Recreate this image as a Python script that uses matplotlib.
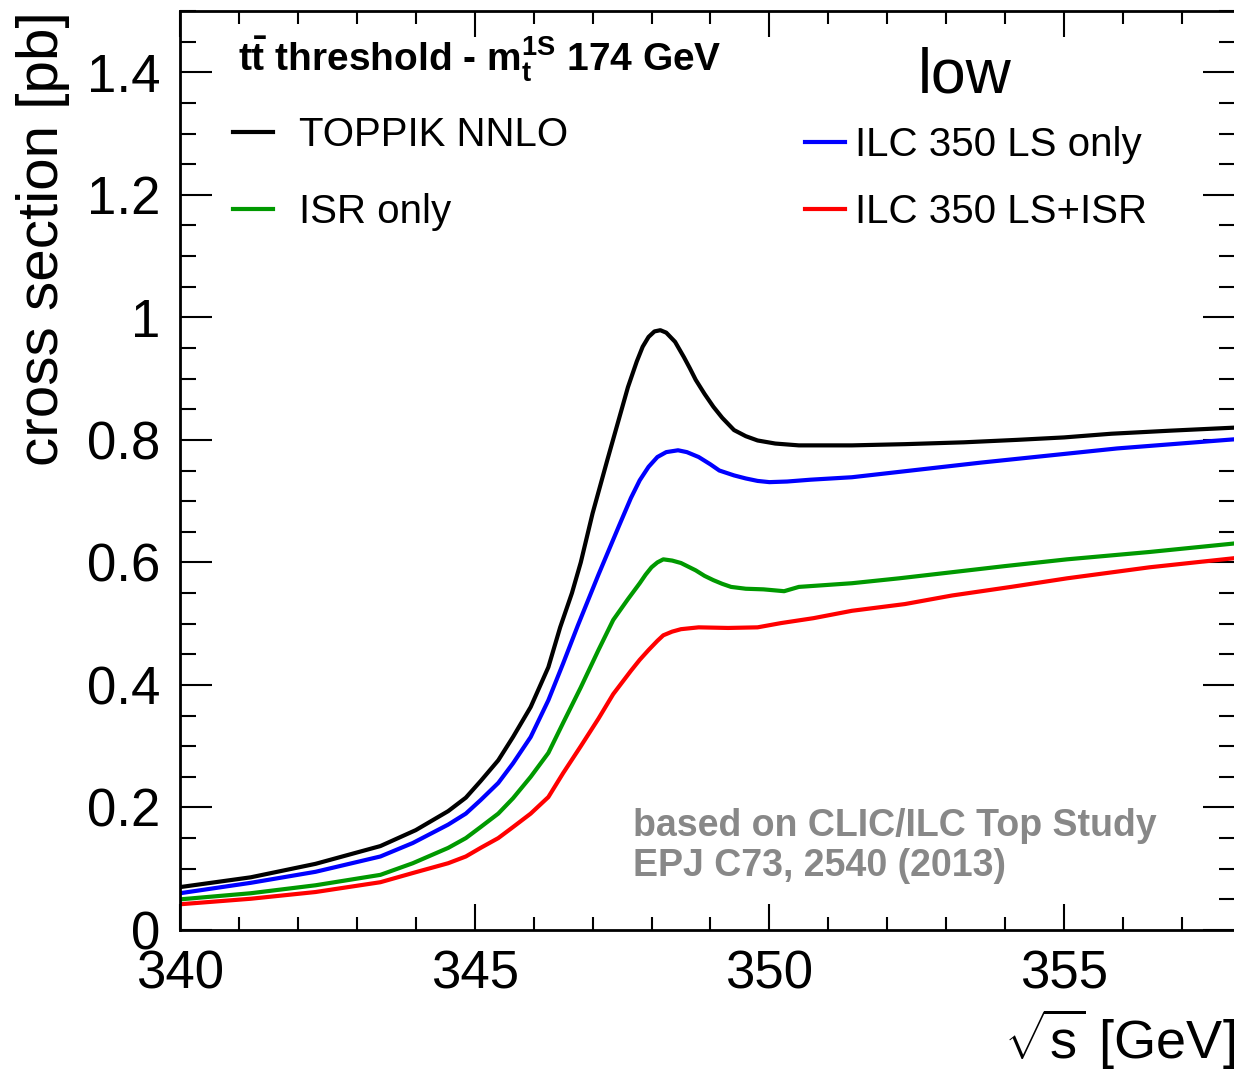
import numpy as np
import matplotlib
matplotlib.use("Agg")
import matplotlib.pyplot as plt
from matplotlib.ticker import MultipleLocator, FixedLocator

plt.rcParams['font.family'] = ['Liberation Sans', 'DejaVu Sans']
plt.rcParams['mathtext.fontset'] = 'custom'
plt.rcParams['mathtext.rm'] = 'Liberation Sans'
plt.rcParams['mathtext.it'] = 'Liberation Sans:italic'
plt.rcParams['mathtext.bf'] = 'Liberation Sans:bold'

# cross section [pb] vs sqrt(s) [GeV]
x_toppik = [340, 341.2, 342.3, 343.4, 344.0, 344.55, 344.85, 345.1, 345.4, 345.65,
            345.95, 346.25, 346.45, 346.65, 346.8, 347.0, 347.25, 347.45, 347.6, 347.75,
            347.85, 347.95, 348.05, 348.15, 348.25, 348.4, 348.55, 348.65, 348.75, 348.9,
            349.05, 349.2, 349.4, 349.6, 349.8, 350.1, 350.5, 351.4, 352.3, 353.3,
            354.2, 355.0, 355.8, 356.8, 357.9]
y_toppik = [0.070, 0.086, 0.108, 0.137, 0.163, 0.194, 0.216, 0.243, 0.277, 0.315,
            0.364, 0.429, 0.494, 0.550, 0.600, 0.680, 0.767, 0.835, 0.886, 0.928,
            0.952, 0.968, 0.977, 0.979, 0.975, 0.960, 0.935, 0.917, 0.898, 0.875,
            0.854, 0.836, 0.816, 0.806, 0.799, 0.794, 0.791, 0.791, 0.793, 0.796,
            0.800, 0.804, 0.810, 0.815, 0.820]

x_ls = [340, 341.2, 342.3, 343.4, 343.95, 344.55, 344.85, 345.1, 345.4, 345.65,
        345.95, 346.25, 346.5, 346.75, 347.1, 347.45, 347.65, 347.8, 347.95, 348.1,
        348.25, 348.45, 348.6, 348.8, 349.0, 349.15, 349.4, 349.6, 349.8, 350.0,
        350.3, 350.7, 351.4, 352.5, 353.6, 354.8, 355.9, 357.9]
y_ls = [0.060, 0.077, 0.095, 0.120, 0.142, 0.172, 0.190, 0.212, 0.240, 0.272,
        0.315, 0.375, 0.435, 0.497, 0.580, 0.660, 0.705, 0.734, 0.756, 0.772,
        0.780, 0.783, 0.780, 0.772, 0.760, 0.750, 0.742, 0.737, 0.733, 0.731,
        0.732, 0.735, 0.739, 0.751, 0.763, 0.775, 0.786, 0.801]

x_isr = [340, 341.2, 342.3, 343.4, 343.95, 344.55, 344.85, 345.1, 345.4, 345.65,
         345.95, 346.25, 346.5, 346.8, 347.1, 347.35, 347.6, 347.8, 347.9, 348.0,
         348.1, 348.2, 348.35, 348.5, 348.75, 348.9, 349.05, 349.2, 349.35, 349.6,
         349.9, 350.25, 350.5, 351.4, 352.2, 353.1, 354.0, 355.05, 356.45, 357.9]
y_isr = [0.050, 0.060, 0.073, 0.090, 0.109, 0.134, 0.150, 0.168, 0.190, 0.215,
         0.250, 0.289, 0.338, 0.396, 0.457, 0.506, 0.540, 0.566, 0.580, 0.592,
         0.600, 0.605, 0.603, 0.599, 0.587, 0.578, 0.571, 0.565, 0.560, 0.557,
         0.556, 0.553, 0.560, 0.566, 0.574, 0.584, 0.594, 0.605, 0.617, 0.631]

x_lsisr = [340, 341.2, 342.3, 343.4, 343.95, 344.55, 344.85, 345.1, 345.4, 345.65,
           345.95, 346.25, 346.5, 346.8, 347.1, 347.35, 347.65, 347.8, 347.95, 348.1,
           348.2, 348.35, 348.5, 348.8, 349.3, 349.8, 350.2, 350.75, 351.4, 352.3,
           353.1, 354.1, 355.05, 356.45, 357.9]
y_lsisr = [0.042, 0.051, 0.062, 0.078, 0.093, 0.109, 0.120, 0.134, 0.150, 0.168,
           0.190, 0.217, 0.256, 0.300, 0.345, 0.385, 0.423, 0.441, 0.457, 0.472,
           0.481, 0.487, 0.491, 0.494, 0.493, 0.494, 0.501, 0.509, 0.521, 0.532,
           0.546, 0.560, 0.574, 0.592, 0.607]

y_ticks = [0, 0.2, 0.4, 0.6, 0.8, 1.0, 1.2, 1.4]
y_ticklabels = ['0', '0.2', '0.4', '0.6', '0.8', '1', '1.2', '1.4']
x_ticks = [340, 345, 350, 355]

W, H = 1234, 1072
fig = plt.figure(figsize=(W / 100, H / 100), dpi=100)
ax = fig.add_axes([180 / W, 1 - 930 / H, 1055 / W, 919 / H])

lw = 3
l1, = ax.plot(x_toppik, y_toppik, color='black', lw=lw)
l2, = ax.plot(x_isr, y_isr, color='#009900', lw=lw)
l3, = ax.plot(x_ls, y_ls, color='blue', lw=lw)
l4, = ax.plot(x_lsisr, y_lsisr, color='red', lw=lw)

ax.set_xlim(340, 357.9)
ax.set_ylim(0, 1.5)
ax.xaxis.set_major_locator(FixedLocator(x_ticks))
ax.xaxis.set_minor_locator(MultipleLocator(1))
ax.set_yticks(y_ticks, y_ticklabels)
ax.yaxis.set_minor_locator(MultipleLocator(0.05))
ax.tick_params(which='both', direction='in', top=True, right=True, width=1.5,
               labelsize=38)
ax.tick_params(axis='x', which='major', length=19, pad=14)
ax.tick_params(axis='x', which='minor', length=9.5)
ax.tick_params(axis='y', which='major', length=23, pad=14)
ax.tick_params(axis='y', which='minor', length=11.5)
for s in ax.spines.values():
    s.set_linewidth(2)

ax.set_ylabel('cross section [pb]', fontsize=42, loc='top')
ax.yaxis.set_label_coords(-0.104, 1.0)
ax.set_xlabel(r'$\sqrt{\mathrm{s}}$ [GeV]', fontsize=39, loc='right')
ax.xaxis.set_label_coords(1.0, -0.083)

ax.text(238 / W, 1 - 72 / H, r'$\mathbf{t\bar{t}}$ threshold - $\mathbf{m_{t}^{1S}}$ 174 GeV',
        transform=fig.transFigure, fontsize=28, fontweight='bold', va='baseline')
ax.text(0.6995, 0.9118, 'low', transform=ax.transAxes, fontsize=45, va='baseline')
ax.text(633 / W, 1 - 836 / H, 'based on CLIC/ILC Top Study', transform=fig.transFigure,
        fontsize=27, fontweight='bold', color='#888888', va='baseline')
ax.text(633 / W, 1 - 876 / H, 'EPJ C73, 2540 (2013)', transform=fig.transFigure,
        fontsize=27, fontweight='bold', color='#888888', va='baseline')

leg1 = ax.legend([l1, l2], ['TOPPIK NNLO', 'ISR only'], loc='upper left',
                 bbox_to_anchor=(233 / W, 1 - 116 / H), bbox_transform=fig.transFigure,
                 frameon=False, fontsize=29, borderpad=0, borderaxespad=0,
                 handlelength=1.0, handletextpad=0.65, labelspacing=0.97)
ax.add_artist(leg1)
ax.legend([l3, l4], ['ILC 350 LS only', 'ILC 350 LS+ISR'], loc='upper left',
          bbox_to_anchor=(805 / W, 1 - 126 / H), bbox_transform=fig.transFigure,
          frameon=False, fontsize=29, borderpad=0, borderaxespad=0,
          handlelength=1.0, handletextpad=0.25, labelspacing=0.72)

fig.savefig('out.png', dpi=100)
